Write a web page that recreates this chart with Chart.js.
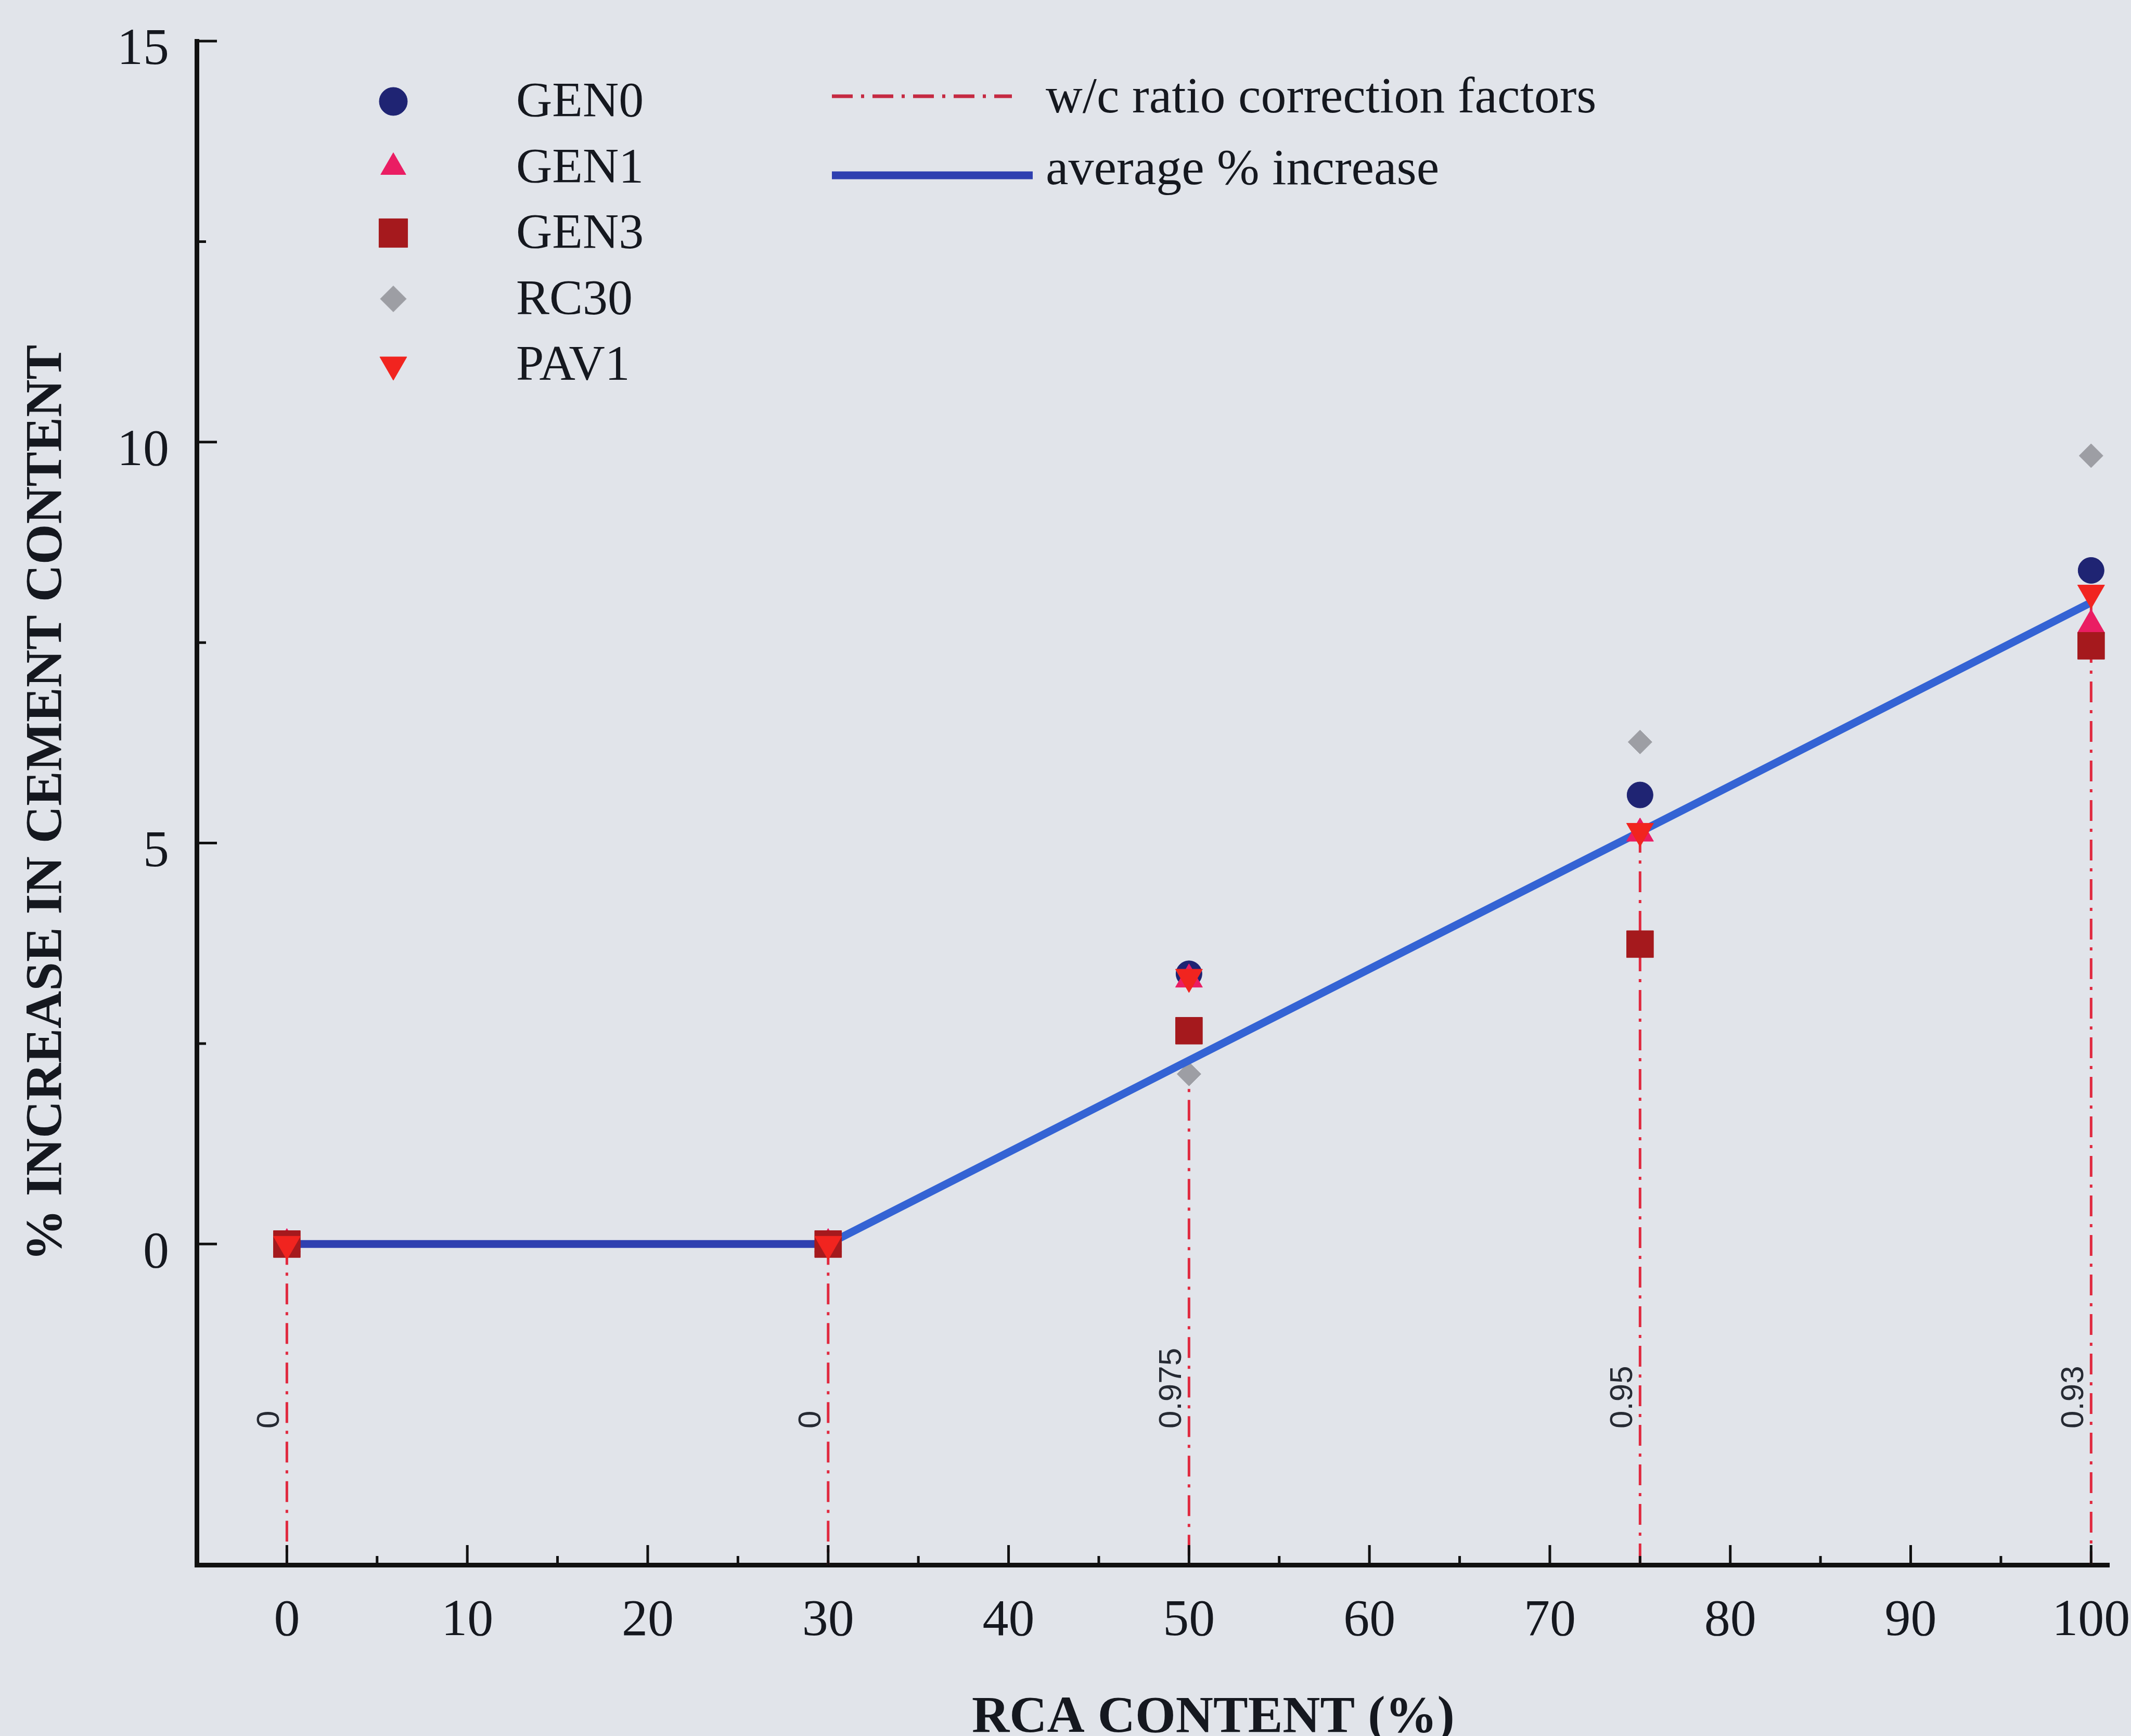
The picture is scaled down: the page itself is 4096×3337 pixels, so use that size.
<!DOCTYPE html>
<html>
<head>
<meta charset="utf-8">
<script src="https://cdn.jsdelivr.net/npm/chart.js@4.4.1/dist/chart.umd.min.js"></script>
<style>
  html, body { margin: 0; padding: 0; background: #e1e4ea; }
  canvas { display: block; }
</style>
</head>
<body>
<canvas id="chart" width="4096" height="3337"></canvas>
<script>
// RCA replacement levels (%) and measured cement content increases (%)
const rcaContent   = [0, 30, 50, 75, 100];
const gen0         = [0, 0, 3.37, 5.60, 8.40];
const gen1         = [0, 0, 3.30, 5.12, 7.72];
const gen3         = [0, 0, 2.66, 3.74, 7.46];
const rc30         = [0, 0, 2.12, 6.26, 9.83];
const pav1         = [0, 0, 3.33, 5.15, 8.12];
const avgIncrease  = [0, 0, 2.29, 5.14, 8.00];
// w/c ratio correction factor applied at each RCA level
const wcCorrection = [0, 0, 0.975, 0.95, 0.93];

// axis ticks
const xTicks      = [0, 10, 20, 30, 40, 50, 60, 70, 80, 90, 100];
const xMinorTicks = [5, 15, 25, 35, 45, 55, 65, 75, 85, 95];
const yTicks      = [0, 5, 10, 15];
const yMinorTicks = [2.5, 7.5, 12.5];

const X_MIN = -5, X_MAX = 101, Y_MIN = -4, Y_MAX = 15;

const INK = '#15181f';
const SERIF = '"Liberation Serif", "Times New Roman", serif';

const points = ys => rcaContent.map((x, i) => ({ x: x, y: ys[i] }));

const markerSeries = [
  { label: 'GEN0', data: gen0, style: 'circle',   color: '#1f2473', radius: 25, legendRadius: 27, rotation: 0,   order: 4 },
  { label: 'GEN1', data: gen1, style: 'triangle', color: '#ea1d63', radius: 30, legendRadius: 28, rotation: 0,   order: 3 },
  { label: 'GEN3', data: gen3, style: 'rect',     color: '#a5191d', radius: 36.5, legendRadius: 39, rotation: 0, order: 2 },
  { label: 'RC30', data: rc30, style: 'rectRot',  color: '#9d9ea4', radius: 23, legendRadius: 25, rotation: 0,   order: 6 },
  { label: 'PAV1', data: pav1, style: 'triangle', color: '#f1241f', radius: 30, legendRadius: 30, rotation: 180, order: 1 }
];

const datasets = [];

// vertical dash-dot drop lines carrying the w/c correction factor
rcaContent.forEach((x, i) => {
  datasets.push({
    label: 'w/c ' + wcCorrection[i],
    data: [{ x: x, y: avgIncrease[i] }, { x: x, y: Y_MIN }],
    showLine: true,
    borderColor: '#e02a40',
    borderWidth: 5,
    borderDash: [40, 15, 6, 15],
    pointRadius: 0,
    order: 8
  });
});

// average % increase line
datasets.push({
  label: 'average % increase',
  data: points(avgIncrease),
  showLine: true,
  borderColor: '#3463d4',
  borderWidth: 15,
  pointRadius: 0,
  segment: {
    borderColor: c => (c.p0DataIndex === 0 ? '#2f40b0' : '#3463d4')
  },
  order: 5
});

markerSeries.forEach(s => {
  datasets.push({
    label: s.label,
    data: points(s.data),
    showLine: false,
    pointStyle: s.style,
    pointRadius: s.radius,
    pointRotation: s.rotation,
    pointBackgroundColor: s.color,
    pointBorderColor: s.color,
    pointBorderWidth: 1,
    order: s.order
  });
});

// inward tick marks, rotated factor labels, key and x-axis title
const decorations = {
  id: 'decorations',
  afterDatasetsDraw(chart) {
    const { ctx, scales: { x, y } } = chart;
    ctx.save();
    ctx.fillStyle = '#262a33';
    ctx.font = '62px "Liberation Sans", Arial, sans-serif';
    ctx.textAlign = 'left';
    ctx.textBaseline = 'alphabetic';
    rcaContent.forEach((v, i) => {
      const px = x.getPixelForValue(v) - 15;
      const py = y.getPixelForValue(-2.3);
      ctx.save();
      ctx.translate(px, py);
      ctx.rotate(-Math.PI / 2);
      ctx.fillText(String(wcCorrection[i]), 0, 0);
      ctx.restore();
    });
    ctx.restore();
  },
  afterDraw(chart) {
    const { ctx, chartArea, scales: { x, y } } = chart;
    ctx.save();

    // tick marks pointing into the plot
    ctx.strokeStyle = '#111111';
    ctx.lineWidth = 5;
    ctx.beginPath();
    xTicks.forEach(v => { const p = x.getPixelForValue(v); ctx.moveTo(p, chartArea.bottom); ctx.lineTo(p, chartArea.bottom - 38); });
    xMinorTicks.forEach(v => { const p = x.getPixelForValue(v); ctx.moveTo(p, chartArea.bottom); ctx.lineTo(p, chartArea.bottom - 17); });
    yTicks.forEach(v => { const p = y.getPixelForValue(v); ctx.moveTo(chartArea.left, p); ctx.lineTo(chartArea.left + 39, p); });
    yMinorTicks.forEach(v => { const p = y.getPixelForValue(v); ctx.moveTo(chartArea.left, p); ctx.lineTo(chartArea.left + 18, p); });
    ctx.stroke();

    // key: marker series
    const keyX = 756, keyTextX = 992, keyTop = 195, keyStep = 126.5;
    markerSeries.forEach((s, i) => {
      const ky = keyTop + i * keyStep;
      ctx.fillStyle = s.color;
      ctx.strokeStyle = s.color;
      ctx.lineWidth = 1;
      Chart.helpers.drawPoint(ctx, { pointStyle: s.style, radius: s.legendRadius, rotation: s.rotation, borderWidth: 1 }, keyX, ky);
      ctx.fillStyle = INK;
      ctx.font = '96px ' + SERIF;
      ctx.textAlign = 'left';
      ctx.textBaseline = 'middle';
      ctx.fillText(s.label, keyTextX, ky + 4);
    });

    // key: line series
    ctx.lineCap = 'butt';
    ctx.strokeStyle = '#c52a42';
    ctx.lineWidth = 7;
    ctx.setLineDash([40, 16, 6, 16]);
    ctx.beginPath(); ctx.moveTo(1599, 185); ctx.lineTo(1945, 185); ctx.stroke();
    ctx.setLineDash([]);
    ctx.strokeStyle = '#2f40b0';
    ctx.lineWidth = 15;
    ctx.beginPath(); ctx.moveTo(1599, 337); ctx.lineTo(1985, 337); ctx.stroke();
    ctx.fillStyle = INK;
    ctx.font = '98px ' + SERIF;
    ctx.textAlign = 'left';
    ctx.textBaseline = 'middle';
    ctx.fillText('w/c ratio correction factors', 2010, 190);
    ctx.fillText('average % increase', 2010, 328);

    // x-axis title
    ctx.font = 'bold 100px ' + SERIF;
    ctx.textAlign = 'center';
    ctx.textBaseline = 'alphabetic';
    ctx.fillText('RCA CONTENT (%)', 2332, 3329);

    ctx.restore();
  }
};

new Chart(document.getElementById('chart'), {
  type: 'scatter',
  data: { datasets: datasets },
  options: {
    responsive: false,
    animation: false,
    devicePixelRatio: 1,
    events: [],
    layout: { padding: { top: 79, right: 42, bottom: 0, left: 0 } },
    plugins: { legend: { display: false }, tooltip: { enabled: false } },
    scales: {
      x: {
        type: 'linear',
        position: 'bottom',
        min: X_MIN,
        max: X_MAX,
        grid: { display: false, drawTicks: false },
        border: { display: true, color: '#111111', width: 9 },
        afterBuildTicks: s => { s.ticks = xTicks.map(v => ({ value: v })); },
        afterFit: s => { s.height = 329; s.paddingLeft = 0; s.paddingRight = 0; },
        ticks: {
          autoSkip: false,
          maxRotation: 0,
          padding: 49,
          color: INK,
          font: { family: SERIF, size: 100 }
        }
      },
      y: {
        type: 'linear',
        position: 'left',
        min: Y_MIN,
        max: Y_MAX,
        grid: { display: false, drawTicks: false },
        border: { display: true, color: '#111111', width: 9 },
        afterBuildTicks: s => { s.ticks = yTicks.map(v => ({ value: v })); },
        afterFit: s => { s.width = 378; s.paddingTop = 0; s.paddingBottom = 0; },
        ticks: {
          autoSkip: false,
          padding: 53,
          labelOffset: 18,
          color: INK,
          font: { family: SERIF, size: 100 }
        },
        title: {
          display: true,
          text: '% INCREASE IN CEMENT CONTENT',
          color: INK,
          font: { family: SERIF, size: 100, weight: 'bold' },
          padding: { top: 31, bottom: 0 }
        }
      }
    }
  },
  plugins: [decorations]
});
</script>
</body>
</html>
